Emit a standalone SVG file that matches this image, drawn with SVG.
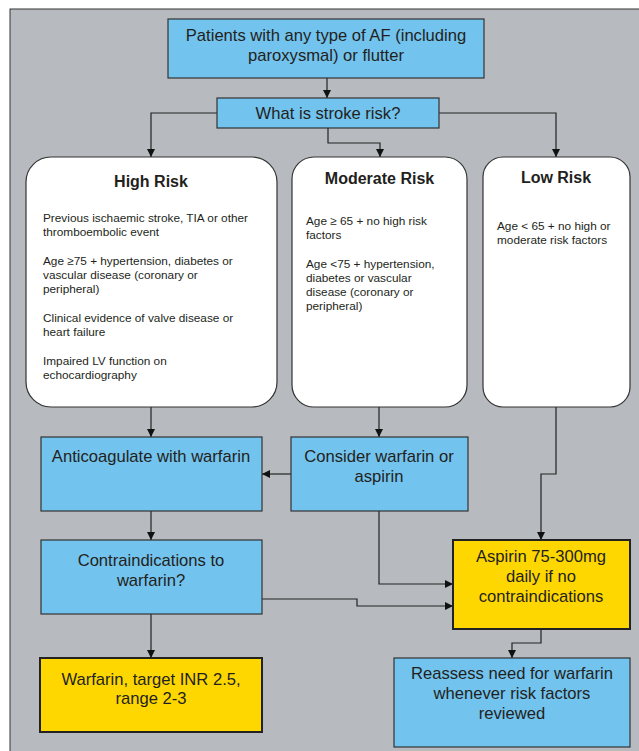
<svg xmlns="http://www.w3.org/2000/svg" width="639" height="751" viewBox="0 0 639 751">
<defs>
<marker id="ah" viewBox="0 0 10 10" refX="10" refY="5" markerWidth="8" markerHeight="8" markerUnits="userSpaceOnUse" orient="auto">
<path d="M0,0 L10,5 L0,10 z" fill="#111"/>
</marker>
<style>
.blue{fill:#72C3EE;stroke:#333;stroke-width:1.2}
.yel{fill:#FFD700;stroke:#222;stroke-width:2}
.risk{fill:#fff;stroke:#333;stroke-width:1.2}
.t{font-family:"Liberation Sans",Arial,sans-serif;fill:#231F20;text-anchor:middle}
.big{font-size:16.6px}
.h{font-size:16px;font-weight:bold}
.s{font-family:"Liberation Sans",Arial,sans-serif;fill:#231F20;font-size:11.8px}
.c{fill:none;stroke:#222;stroke-width:1.2;marker-end:url(#ah)}
</style>
</defs>
<rect x="0" y="0" width="639" height="751" fill="#fff"/>
<rect x="10" y="9" width="640" height="760" fill="#B7BBBF" stroke="#333" stroke-width="1"/>

<g id="connectors">
<path class="c" d="M327,78 V98"/>
<path class="c" d="M217,113 H151 V157"/>
<path class="c" d="M328,128 V143 H380 V157"/>
<path class="c" d="M439,113 H556 V157"/>
<path class="c" d="M151,407 V437"/>
<path class="c" d="M379,407 V437"/>
<path class="c" d="M291,474 H262"/>
<path class="c" d="M556,407 V474 H541 V540"/>
<path class="c" d="M151,511 V540"/>
<path class="c" d="M379,511 V584 H453"/>
<path class="c" d="M262,599 H357 V606 H453"/>
<path class="c" d="M151,614 V658"/>
<path class="c" d="M541,629 V643 H512 V658"/>
</g>

<g id="start">
<rect class="blue" x="168" y="19" width="316" height="59"/>
<text class="t big" x="326" y="41">Patients with any type of AF (including</text>
<text class="t big" x="326" y="61">paroxysmal) or flutter</text>
</g>

<g id="stroke-risk">
<rect class="blue" x="217" y="98" width="222" height="30"/>
<text class="t big" x="328" y="119">What is stroke risk?</text>
</g>

<g id="high-risk">
<rect class="risk" x="26" y="157" width="251" height="250" rx="25" ry="25"/>
<text class="t h" x="151" y="187">High Risk</text>
<text class="s" x="43" y="222">Previous ischaemic stroke, TIA or other</text>
<text class="s" x="43" y="236">thromboembolic event</text>
<text class="s" x="43" y="265">Age ≥75 + hypertension, diabetes or</text>
<text class="s" x="43" y="279">vascular disease (coronary or</text>
<text class="s" x="43" y="293">peripheral)</text>
<text class="s" x="43" y="322">Clinical evidence of valve disease or</text>
<text class="s" x="43" y="336">heart failure</text>
<text class="s" x="43" y="365">Impaired LV function on</text>
<text class="s" x="43" y="379">echocardiography</text>
</g>

<g id="moderate-risk">
<rect class="risk" x="292" y="157" width="175" height="250" rx="22" ry="22"/>
<text class="t h" x="379.5" y="184">Moderate Risk</text>
<text class="s" x="306" y="225">Age ≥ 65 + no high risk</text>
<text class="s" x="306" y="239">factors</text>
<text class="s" x="306" y="268">Age &lt;75 + hypertension,</text>
<text class="s" x="306" y="282">diabetes or vascular</text>
<text class="s" x="306" y="296">disease (coronary or</text>
<text class="s" x="306" y="310">peripheral)</text>
</g>

<g id="low-risk">
<rect class="risk" x="483" y="157" width="147" height="250" rx="20" ry="20"/>
<text class="t h" x="556" y="183">Low Risk</text>
<text class="s" x="497" y="230">Age &lt; 65 + no high or</text>
<text class="s" x="497" y="244">moderate risk factors</text>
</g>

<g id="anticoagulate">
<rect class="blue" x="41" y="437" width="221" height="74"/>
<text class="t big" x="151" y="462">Anticoagulate with warfarin</text>
</g>

<g id="consider">
<rect class="blue" x="291" y="437" width="177" height="74"/>
<text class="t big" x="379" y="462">Consider warfarin or</text>
<text class="t big" x="379" y="482">aspirin</text>
</g>

<g id="contraindications">
<rect class="blue" x="41" y="540" width="221" height="74"/>
<text class="t big" x="151" y="566">Contraindications to</text>
<text class="t big" x="151" y="586">warfarin?</text>
</g>

<g id="aspirin">
<rect class="yel" x="453" y="540" width="177" height="89"/>
<text class="t big" x="541" y="562">Aspirin 75-300mg</text>
<text class="t big" x="541" y="582">daily if no</text>
<text class="t big" x="541" y="602">contraindications</text>
</g>

<g id="warfarin">
<rect class="yel" x="40" y="658" width="222" height="74"/>
<text class="t big" x="151" y="685">Warfarin, target INR 2.5,</text>
<text class="t big" x="151" y="704">range 2-3</text>
</g>

<g id="reassess">
<rect class="blue" x="394" y="658" width="236" height="89"/>
<text class="t big" x="512" y="679">Reassess need for warfarin</text>
<text class="t big" x="512" y="699">whenever risk factors</text>
<text class="t big" x="512" y="719">reviewed</text>
</g>
</svg>
